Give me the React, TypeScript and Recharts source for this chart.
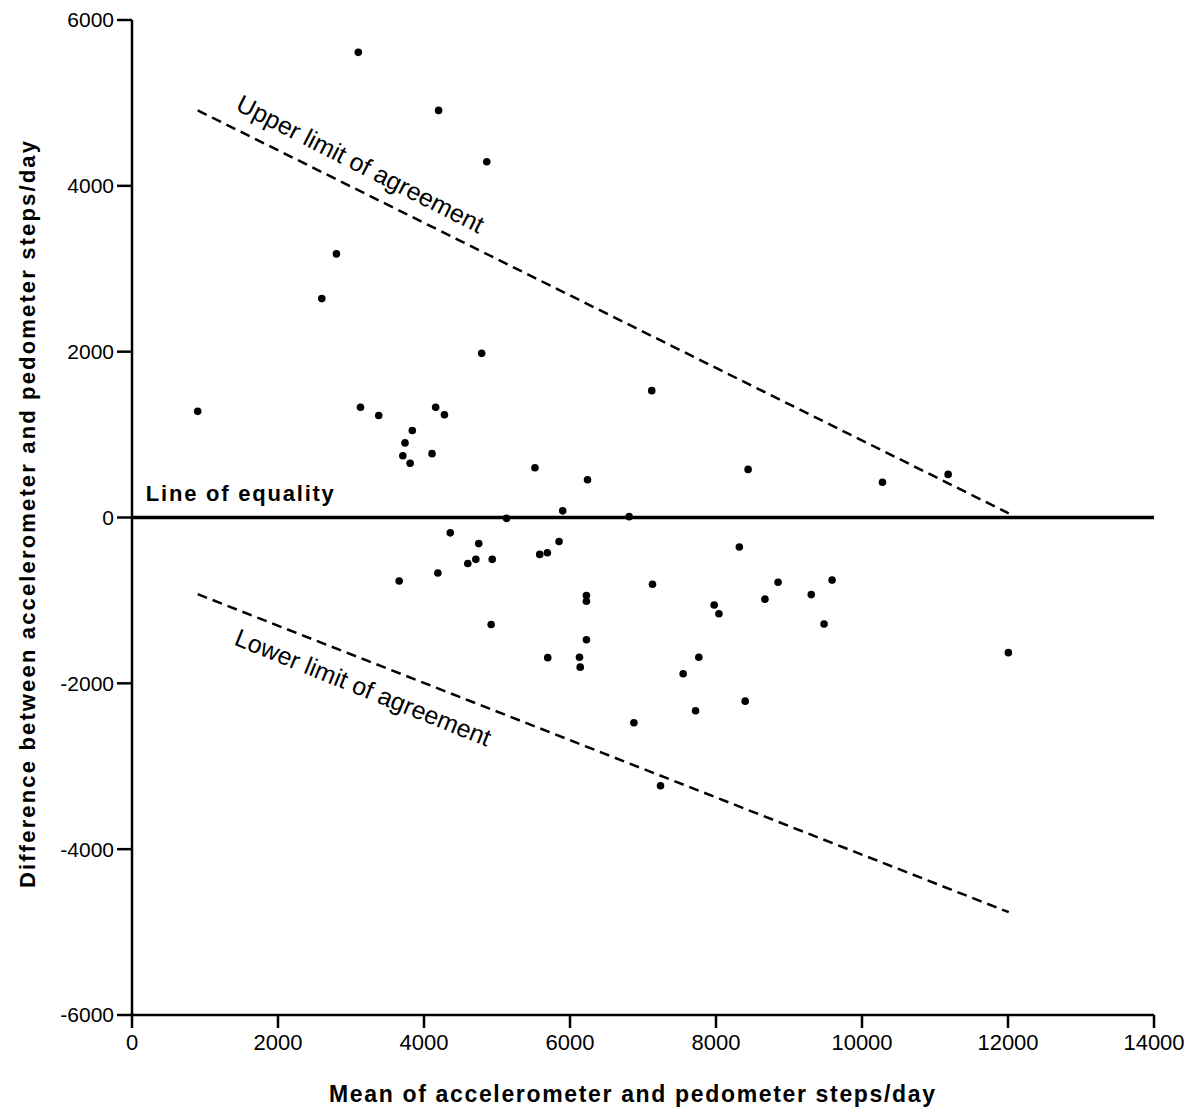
import React from 'react';
import { ScatterChart, Scatter, XAxis, YAxis, ReferenceLine, Label } from 'recharts';

// Mean of accelerometer and pedometer steps/day (x) and difference (y)
const meanSteps = [
  3100, 4200, 4860, 2800, 2600, 4790, 900, 3130, 3380, 4160,
  4280, 3840, 3740, 3710, 3810, 4110, 5130, 4360, 4750, 4710,
  4600, 4935, 4190, 3660, 4920, 7120, 5520, 6240, 5900, 6810,
  8440, 5850, 5585, 5690, 8320, 7130, 6225, 6225, 8850, 9590,
  8670, 9305, 7975, 8040, 9480, 6225, 5695, 6130, 6140, 7765,
  7550, 8400, 7720, 6875, 7240, 10280, 11180, 12005,
];
const diffSteps = [
  5610, 4910, 4290, 3180, 2640, 1980, 1280, 1330, 1230, 1330,
  1240, 1050, 900, 745, 655, 770, -10, -185, -315, -505,
  -555, -505, -670, -765, -1290, 1530, 600, 455, 80, 10,
  580, -290, -445, -425, -355, -805, -940, -1010, -780, -755,
  -985, -930, -1055, -1160, -1285, -1475, -1690, -1685, -1805, -1685,
  -1885, -2215, -2330, -2475, -3235, 425, 520, -1630,
];

const xTicks = [0, 2000, 4000, 6000, 8000, 10000, 12000, 14000];
const yTicks = [-6000, -4000, -2000, 0, 2000, 4000, 6000];

const upperLimit = [{ x: 900, y: 4910 }, { x: 12010, y: 50 }];
const lowerLimit = [{ x: 900, y: -925 }, { x: 12010, y: -4760 }];
const equalityValue = 0;

const xTitle = 'Mean of accelerometer and pedometer steps/day';
const yTitle = 'Difference between accelerometer and pedometer steps/day';
const equalityLabel = [{ x: 190, y: 205, text: 'Line of equality' }];
const upperLabel = [{ x: 1405, y: 4920, text: 'Upper limit of agreement' }];
const lowerLabel = [{ x: 1383, y: -1530, text: 'Lower limit of agreement' }];

const points = meanSteps.map((m, i) => ({ x: m, y: diffSteps[i] }));

const FONT = '"Liberation Sans", Arial, Helvetica, sans-serif';

const Dot = (props: any) => {
  const { cx, cy } = props;
  if (cx == null || cy == null) return null;
  return <circle cx={cx} cy={cy} r={3.8} fill="#000" />;
};

const makeTextShape = (angle: number, fontSize: number, bold: boolean, textLength?: number) => (props: any) => {
  const { cx, cy, payload } = props;
  if (cx == null || cy == null) return null;
  return (
    <text
      x={cx}
      y={cy}
      transform={angle ? `rotate(${angle} ${cx} ${cy})` : undefined}
      fontFamily={FONT}
      fontSize={fontSize}
      fontWeight={bold ? 'bold' : 'normal'}
      fill="#000"
      textAnchor="start"
      textLength={textLength}
      lengthAdjust={textLength ? 'spacing' : undefined}
    >
      {payload.text}
    </text>
  );
};

const XTitle = (props: any) => {
  const vb = props.viewBox || { x: 132, y: 1015, width: 1022, height: 105 };
  const cx = vb.x + vb.width / 2 - 11;
  const y = vb.y + 87;
  return (
    <text x={cx} y={y} textAnchor="middle" fontFamily={FONT} fontSize={23} fontWeight="bold" fill="#000"
      textLength={606} lengthAdjust="spacing">
      {xTitle}
    </text>
  );
};

const YTitle = (props: any) => {
  const vb = props.viewBox || { x: 0, y: 20, width: 132, height: 995 };
  const x = 34.5;
  const cy = vb.y + vb.height / 2 - 3;
  return (
    <text x={x} y={cy} transform={`rotate(-90 ${x} ${cy})`} textAnchor="middle" fontFamily={FONT}
      fontSize={22} fontWeight="bold" fill="#000" textLength={747} lengthAdjust="spacing">
      {yTitle}
    </text>
  );
};

export default function App() {
  return (
    <div style={{ position: 'absolute', left: 0, top: 0, width: 1200, height: 1120, background: '#fff' }}>
      <ScatterChart width={1200} height={1120} margin={{ top: 20, right: 46, left: 0, bottom: 0 }}>
        <XAxis
          type="number"
          dataKey="x"
          domain={[0, 14000]}
          ticks={xTicks}
          interval={0}
          allowDataOverflow
          height={105}
          tickSize={13}
          tickMargin={6}
          axisLine={{ stroke: '#000', strokeWidth: 2.5 }}
          tickLine={{ stroke: '#000', strokeWidth: 2.5 }}
          tick={{ fill: '#000', fontSize: 22, fontFamily: FONT }}
        >
          <Label content={<XTitle />} />
        </XAxis>
        <YAxis
          type="number"
          dataKey="y"
          domain={[-6000, 6000]}
          ticks={yTicks}
          interval={0}
          allowDataOverflow
          width={132}
          tickSize={15}
          tickMargin={3}
          axisLine={{ stroke: '#000', strokeWidth: 2.5 }}
          tickLine={{ stroke: '#000', strokeWidth: 2.5 }}
          tick={{ fill: '#000', fontSize: 21, fontFamily: FONT }}
        >
          <Label content={<YTitle />} />
        </YAxis>
        <ReferenceLine y={equalityValue} stroke="#000" strokeWidth={3.5} />
        <ReferenceLine segment={upperLimit} stroke="#000" strokeWidth={2.5} strokeDasharray="10 6" />
        <ReferenceLine segment={lowerLimit} stroke="#000" strokeWidth={2.5} strokeDasharray="10 6" />
        <Scatter data={points} shape={<Dot />} isAnimationActive={false} />
        <Scatter data={equalityLabel} shape={makeTextShape(0, 22, true, 188)} isAnimationActive={false} />
        <Scatter data={upperLabel} shape={makeTextShape(27, 25, false)} isAnimationActive={false} />
        <Scatter data={lowerLabel} shape={makeTextShape(22, 25, false)} isAnimationActive={false} />
      </ScatterChart>
    </div>
  );
}
